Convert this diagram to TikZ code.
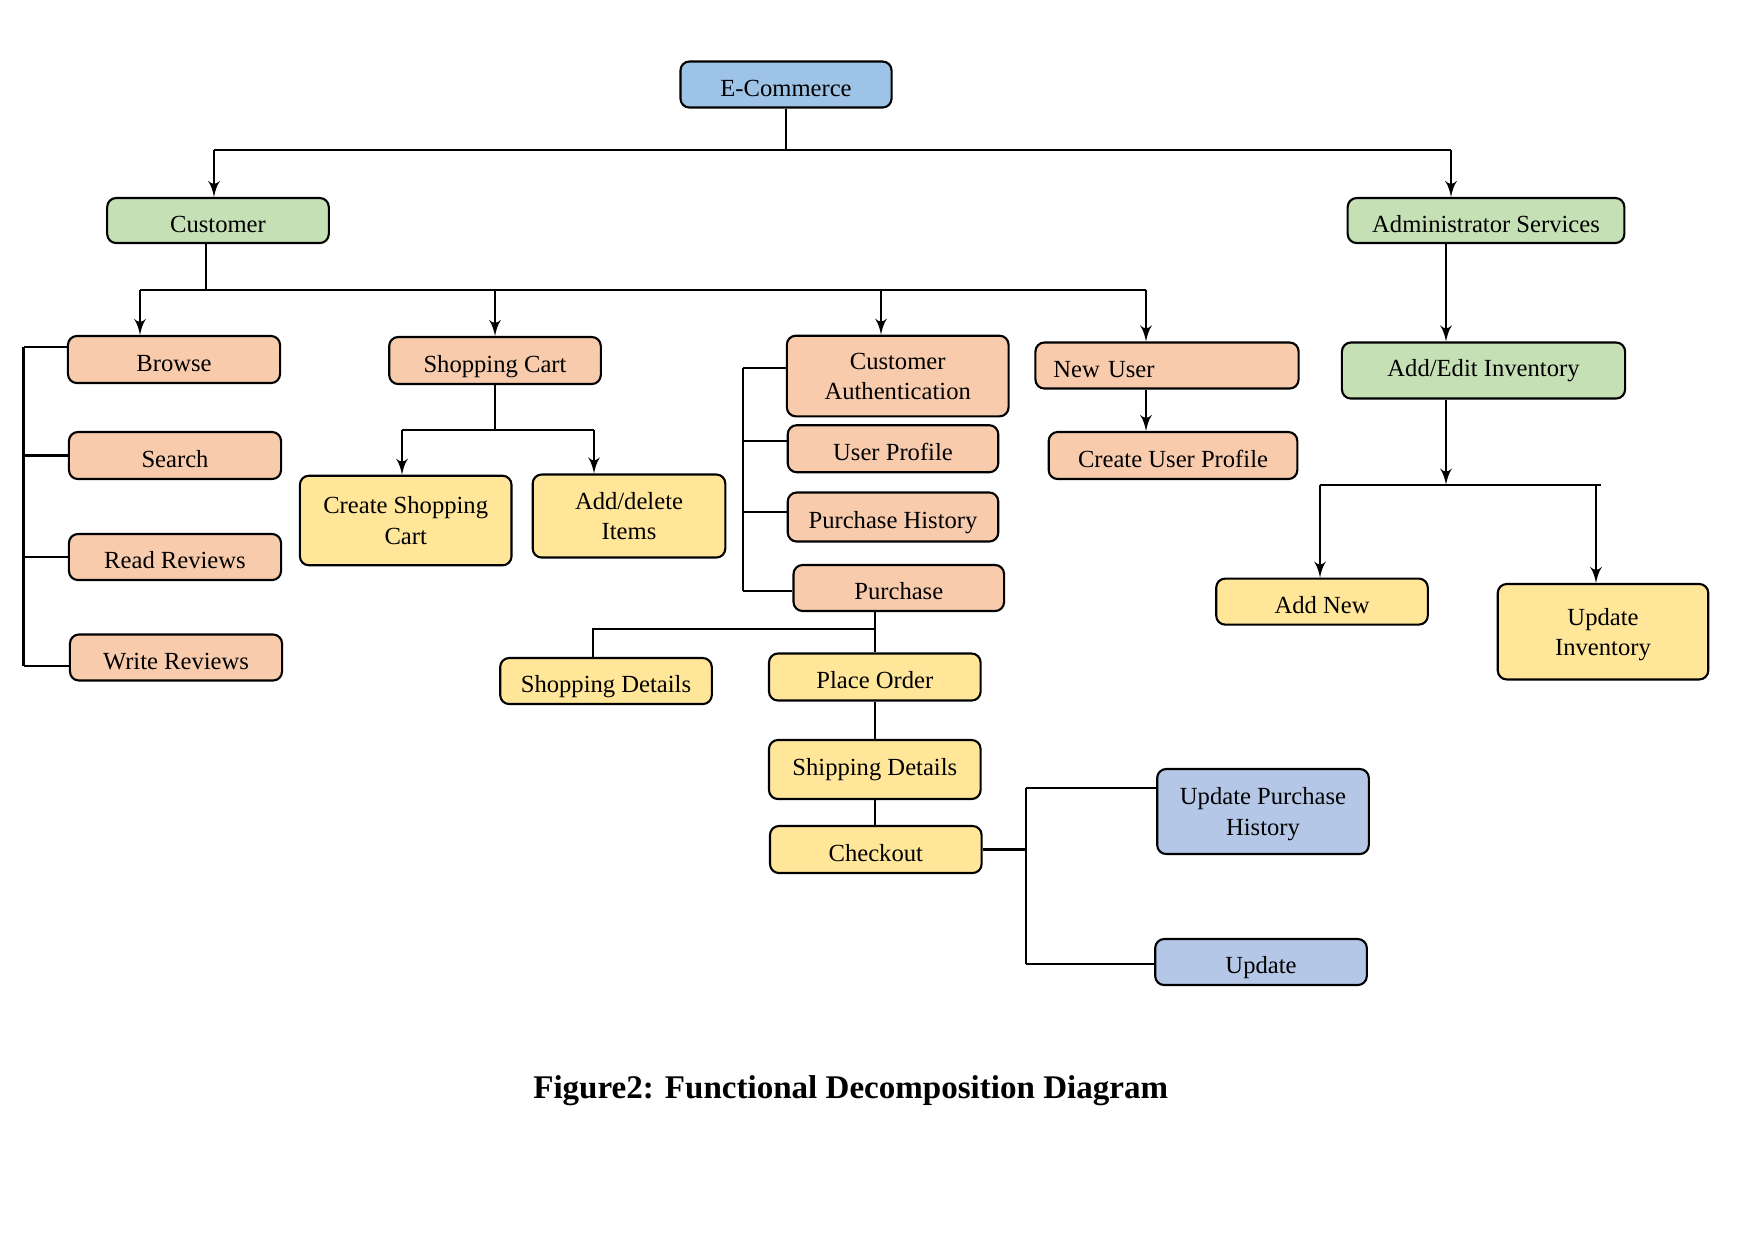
\documentclass[tikz,border=0pt]{standalone}
\usepackage{fontspec}
\setmainfont{Liberation Serif}
\usetikzlibrary{calc, arrows}
\definecolor{ecblue}{HTML}{9DC3E6}
\definecolor{ecgreen}{HTML}{C5E0B4}
\definecolor{ecsalmon}{HTML}{F8CBAD}
\definecolor{ecyellow}{HTML}{FFE699}
\definecolor{eclav}{HTML}{B4C7E7}
\tikzstyle{blk}=[draw, rounded corners=0.9mm, line width=0.6pt, minimum width=2.115cm, minimum height=0.47cm, inner sep=1pt, align=center, font=\fontsize{7}{8.6}\selectfont, text height=6.6pt, text depth=0pt]
\tikzstyle{two}=[text height={}, text depth=-6pt]
\tikzstyle{plain}=[text height={}, text depth={}]
\tikzstyle{rootbox}=[blk, fill=ecblue]
\tikzstyle{grnbox}=[blk, fill=ecgreen]
\tikzstyle{redbox}=[blk, fill=ecsalmon]
\tikzstyle{ylwbox}=[blk, fill=ecyellow]
\tikzstyle{lavbox}=[blk, fill=eclav]

\begin{document}
\begin{tikzpicture}[x=0.01cm,y=-0.01cm,>=latex',line width=0.6pt]
      \useasboundingbox (0,0) rectangle (1755,1241);
      % top level
      \node [rootbox, minimum width=2.11cm, minimum height=0.46cm] (ecom) at (786,84.5) {E-Commerce};
      \node [grnbox, minimum width=2.215cm, minimum height=0.45cm] (cust) at (218,220.5) {Customer};
      \node [grnbox, minimum width=2.765cm, minimum height=0.45cm] (admin) at (1486,220.5) {Administrator Services};
      % customer side
      \node [redbox, minimum width=2.12cm] (browse) at (174,359.5) {Browse};
      \node [redbox, minimum width=2.12cm] (search) at (175,455.5) {Search};
      \node [redbox, minimum width=2.12cm, minimum height=0.46cm] (read) at (175,557) {Read Reviews};
      \node [redbox, minimum width=2.12cm, minimum height=0.46cm] (write) at (176,657.5) {Write Reviews};
      \node [redbox] (cart) at (495,360.5) {Shopping Cart};
      \node [ylwbox, two, minimum height=0.895cm] (create) at (405.7,520.5) {Create Shopping\\Cart};
      \node [ylwbox, two, minimum width=1.925cm, minimum height=0.83cm] (adddel) at (629,516) {Add/delete\\Items};
      \node [redbox, two, minimum width=2.216cm, minimum height=0.806cm] (auth) at (897.7,376) {Customer\\Authentication};
      \node [redbox, minimum width=2.104cm] (profile) at (893,448.7) {User Profile};
      \node [redbox, minimum width=2.104cm, minimum height=0.49cm] (history) at (893,517) {Purchase History};
      \node [redbox, minimum width=2.104cm, minimum height=0.46cm] (purch) at (898.8,588) {Purchase};
      \node [ylwbox, minimum height=0.46cm] (shopdet) at (606,681) {Shopping Details};
      \node [ylwbox] (order) at (874.8,677) {Place Order};
      \node [ylwbox, plain, minimum height=0.59cm] (shipdet) at (874.8,769.5) {Shipping Details};
      \node [ylwbox] (checkout) at (875.8,849.5) {Checkout};
      \node [lavbox, two, minimum height=0.85cm] (uph) at (1263,811.5) {Update Purchase\\History};
      \node [lavbox, minimum height=0.46cm] (upd) at (1261,962) {Update};
      \node [redbox, align=left, text width=2.27cm, inner xsep=0.18cm, minimum height=0.46cm] (newuser) at (1167,365.5) {New User};
      \node [redbox, minimum width=2.485cm] (cup) at (1173,455.5) {Create User Profile};
      % admin side
      \node [grnbox, plain, minimum width=2.83cm, minimum height=0.56cm] (addedit) at (1483.5,370.5) {Add/Edit Inventory};
      \node [ylwbox, minimum height=0.46cm] (addnew) at (1322,601.6) {Add New};
      \node [ylwbox, two, minimum width=2.104cm, minimum height=0.954cm] (updinv) at (1603,631.7) {Update\\Inventory};
      \node [font=\bfseries\fontsize{9.4}{11}\selectfont] (cap) at (850.7,1091) {Figure2: Functional Decomposition Diagram};

      % connectors
      \coordinate (e1) at (214,150);
      \coordinate (e2) at (1451,150);
      \draw (ecom.south) -- (ecom.south |- e1);
      \draw (e1) -- (e2);
      \draw[->] (e1) -- (e1 |- cust.north);
      \draw[->] (e2) -- (e2 |- admin.north);

      \coordinate (c0) at (206,290);
      \coordinate (c1) at (140,290);
      \coordinate (c2) at (1146,290);
      \coordinate (c3) at (881,290);
      \draw (c0 |- cust.south) -- (c0);
      \draw (c1) -- (c2);
      \draw[->] (c1) -- (c1 |- browse.north);
      \draw[->] (cart.north |- c1) -- (cart.north);
      \draw[->] (c3) -- (c3 |- auth.north);
      \draw[->] (c2) -- (c2 |- newuser.north);

      \coordinate (l1) at (23.5,347);
      \coordinate (l2) at (23.5,666);
      \draw (l1) -- (l2);
      \draw (l1) -- (l1 -| browse.west);
      \draw (search.west -| l1) -- (search.west);
      \draw (read.west -| l1) -- (read.west);
      \draw (l2) -- (l2 -| write.west);

      \coordinate (s1) at (402,430);
      \coordinate (s2) at (594,430);
      \draw (cart.south) -- (cart.south |- s1);
      \draw (s1) -- (s2);
      \draw[->] (s1) -- (s1 |- create.north);
      \draw[->] (s2) -- (s2 |- adddel.north);

      \coordinate (a1) at (743,368);
      \coordinate (a2) at (743,591);
      \draw (a1) -- (a2);
      \draw (a1) -- (a1 -| auth.west);
      \draw ($(profile.west -| a1)+(0,-8)$) -- ($(profile.west)+(0,-8)$);
      \draw ($(history.west -| a1)+(0,-5)$) -- ($(history.west)+(0,-5)$);
      \draw (a2) -- (a2 -| purch.west);

      \coordinate (p1) at (593,629);
      \draw (order.north |- purch.south) -- (order.north);
      \draw (order.north |- p1) -- (p1) -- (p1 |- shopdet.north);
      \draw (order.south) -- (shipdet.north);
      \draw (shipdet.south) -- (shipdet.south |- checkout.north);

      \coordinate (k1) at (1026.4,788);
      \coordinate (k2) at (1026.4,963.7);
      \draw (checkout.east) -- (checkout.east -| k1);
      \draw (k1) -- (k2);
      \draw (k1) -- (k1 -| uph.west);
      \draw (k2) -- (k2 -| upd.west);

      \coordinate (n1) at (1146,420);
      \draw[->] (n1 |- newuser.south) -- (n1 |- cup.north);

      \coordinate (m1) at (1446,484.6);
      \coordinate (m2) at (1320,484.6);
      \coordinate (m3) at (1600.6,484.6);
      \coordinate (m4) at (1596,484.6);
      \draw[->] (m1 |- admin.south) -- (m1 |- addedit.north);
      \draw[->] (m1 |- addedit.south) -- (m1);
      \draw (m2) -- (m3);
      \draw[->] (m2) -- (m2 |- addnew.north);
      \draw[->] (m4) -- (m4 |- updinv.north);
  \end{tikzpicture}
\end{document}
